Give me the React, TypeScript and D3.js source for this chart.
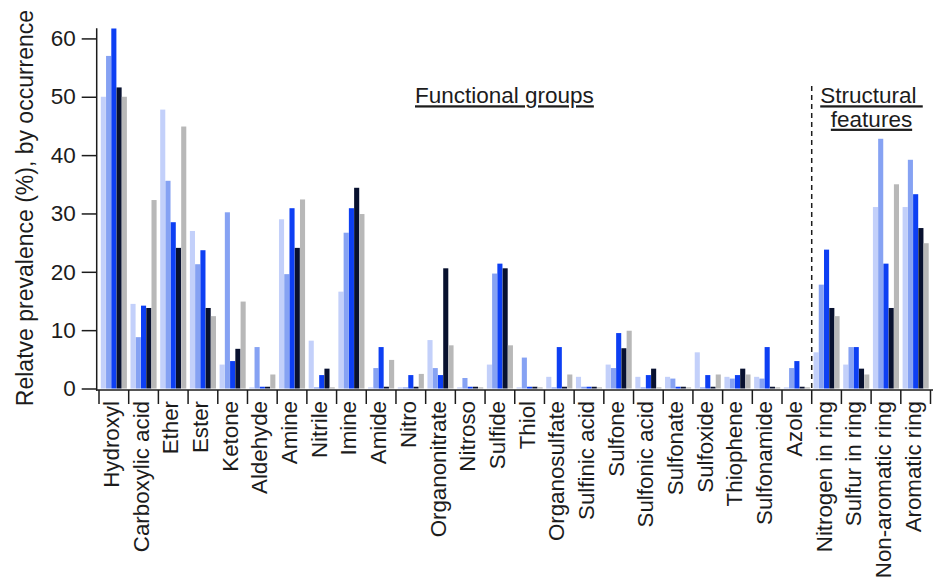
import React, { useEffect, useRef } from "react";
import * as d3 from "d3";

// Categories along the x axis (functional groups, then structural features)
const categories = [
  "Hydroxyl",
  "Carboxylic acid",
  "Ether",
  "Ester",
  "Ketone",
  "Aldehyde",
  "Amine",
  "Nitrile",
  "Imine",
  "Amide",
  "Nitro",
  "Organonitrate",
  "Nitroso",
  "Sulfide",
  "Thiol",
  "Organosulfate",
  "Sulfinic acid",
  "Sulfone",
  "Sulfonic acid",
  "Sulfonate",
  "Sulfoxide",
  "Thiophene",
  "Sulfonamide",
  "Azole",
  "Nitrogen in ring",
  "Sulfur in ring",
  "Non-aromatic ring",
  "Aromatic ring",
];

// Five series per category, in drawing order
const seriesKeys = ["light", "medium", "bright", "navy", "gray"];
const seriesColors = ["#c3d0fa", "#86a2f3", "#0d3ff3", "#08112f", "#b8b8b8"];

const lightValues = [50, 14.5, 47.8, 27.0, 4.1, 0.2, 29.0, 8.2, 16.6, 0.2, 0.2, 8.3, 0.2, 4.1, 0.2, 2.0, 2.0, 4.1, 2.0, 2.0, 6.2, 2.0, 2.0, 0.2, 6.2, 4.1, 31.1, 31.1];
const mediumValues = [57, 8.8, 35.6, 21.3, 30.2, 7.1, 19.6, 0.2, 26.7, 3.5, 0.2, 3.5, 1.8, 19.7, 5.3, 0.2, 0.3, 3.5, 0.2, 1.7, 0.2, 1.7, 1.7, 3.5, 17.8, 7.1, 42.8, 39.2];
const brightValues = [61.7, 14.2, 28.5, 23.7, 4.7, 0.3, 30.9, 2.3, 30.9, 7.1, 2.3, 2.3, 0.3, 21.4, 0.3, 7.1, 0.3, 9.5, 2.3, 0.3, 2.3, 2.3, 7.1, 4.7, 23.8, 7.1, 21.4, 33.3];
const navyValues = [51.6, 13.8, 24.1, 13.8, 6.8, 0.3, 24.1, 3.4, 34.4, 0.3, 0.3, 20.6, 0.3, 20.6, 0.3, 0.3, 0.3, 6.9, 3.4, 0.3, 0.3, 3.4, 0.3, 0.3, 13.8, 3.4, 13.8, 27.5];
const grayValues = [50, 32.3, 44.9, 12.4, 14.9, 2.4, 32.4, 0.2, 29.9, 4.9, 2.5, 7.4, 0.2, 7.4, 0.2, 2.4, 0.2, 9.9, 0.2, 0.2, 2.4, 2.4, 0.2, 0.2, 12.4, 2.4, 35.0, 24.9];

const seriesValues = [lightValues, mediumValues, brightValues, navyValues, grayValues];

const yTicks = [0, 10, 20, 30, 40, 50, 60];

const yTitle = "Relatve prevalence (%), by occurrence";
const sectionLeft = "Functional groups";
const sectionRight = ["Structural\u00a0", "features"];
const firstStructural = "Nitrogen in ring";

const FONT = "'Liberation Sans', Arial, Helvetica, sans-serif";
const INK = "#1c1c1c";

export default function App() {
  const yAxisRef = useRef<SVGGElement>(null);
  const xAxisRef = useRef<SVGGElement>(null);

  const axisX = 96.7;
  const baseY = 390;

  const x = d3.scaleBand<string>().domain(categories).range([99, 930.5]).paddingInner(0).paddingOuter(0);
  const inner = d3
    .scaleBand<string>()
    .domain(seriesKeys)
    .range([1.8, x.bandwidth() - 1.8])
    .paddingInner(0.03);
  const y = d3.scaleLinear().domain([0, 61.7]).range([388.5, 28.5]);

  useEffect(() => {
    if (yAxisRef.current) {
      const g = d3.select(yAxisRef.current);
      g.selectAll("*").remove();
      g.call(d3.axisLeft(y).tickValues(yTicks).tickSize(15).tickPadding(6).tickSizeOuter(0));
      g.select(".domain").remove();
      g.selectAll(".tick line").attr("stroke", INK).attr("stroke-width", 1.5);
      g.selectAll(".tick text")
        .attr("fill", INK)
        .style("font-family", FONT)
        .style("font-size", "22.5px");
    }
    if (xAxisRef.current) {
      const g = d3.select(xAxisRef.current);
      g.selectAll("*").remove();
      g.call(d3.axisBottom(x).tickSize(0).tickSizeOuter(0));
      g.select(".domain").remove();
      g.selectAll(".tick line").remove();
      g.selectAll(".tick text")
        .attr("fill", INK)
        .attr("transform", "rotate(-90)")
        .attr("x", -11)
        .attr("y", 0)
        .attr("dy", "5px")
        .style("text-anchor", "end")
        .style("font-family", FONT)
        .style("font-size", "22.3px");
    }
  }, []);

  const boundaries = [...categories.map((c) => x(c) as number), x.range()[1]];
  const dashX = x(firstStructural) as number;

  return (
    <svg
      width={933}
      height={577}
      style={{ position: "absolute", left: 0, top: 0, background: "#fff" }}
      fontFamily={FONT}
    >
      {/* bars */}
      {categories.map((cat, i) => (
        <g key={cat} transform={`translate(${x(cat)},0)`}>
          {seriesKeys.map((k, s) => {
            const v = seriesValues[s][i];
            return (
              <rect
                key={k}
                x={inner(k)}
                y={y(v)}
                width={inner.bandwidth()}
                height={y(0) - y(v)}
                fill={seriesColors[s]}
              />
            );
          })}
        </g>
      ))}

      {/* y axis */}
      <line x1={axisX} x2={axisX} y1={28.3} y2={baseY + 0.7} stroke={INK} strokeWidth={1.5} />
      <g ref={yAxisRef} transform={`translate(${axisX},0)`} />
      <text
        transform={`translate(33,208) rotate(-90)`}
        textAnchor="middle"
        fontSize={23}
        fill={INK}
      >
        {yTitle}
      </text>

      {/* x axis */}
      <line x1={axisX - 0.7} x2={933} y1={baseY} y2={baseY} stroke={INK} strokeWidth={1.5} />
      {boundaries.map((bx, i) => (
        <line key={i} x1={bx} x2={bx} y1={baseY} y2={baseY + 14} stroke={INK} strokeWidth={1.5} />
      ))}
      <g ref={xAxisRef} transform={`translate(0,${baseY})`} />

      {/* section divider */}
      <line
        x1={dashX}
        x2={dashX}
        y1={86}
        y2={baseY}
        stroke={INK}
        strokeWidth={1.5}
        strokeDasharray="5,4"
      />

      {/* section headings */}
      <text x={415} y={103.3} fontSize={22.5} fill={INK} textDecoration="underline">
        {sectionLeft}
      </text>
      <text x={871.5} y={103.3} fontSize={22.5} fill={INK} textAnchor="middle" textDecoration="underline">
        {sectionRight[0]}
      </text>
      <text x={871.5} y={126.7} fontSize={22.5} fill={INK} textAnchor="middle" textDecoration="underline">
        {sectionRight[1]}
      </text>
    </svg>
  );
}
